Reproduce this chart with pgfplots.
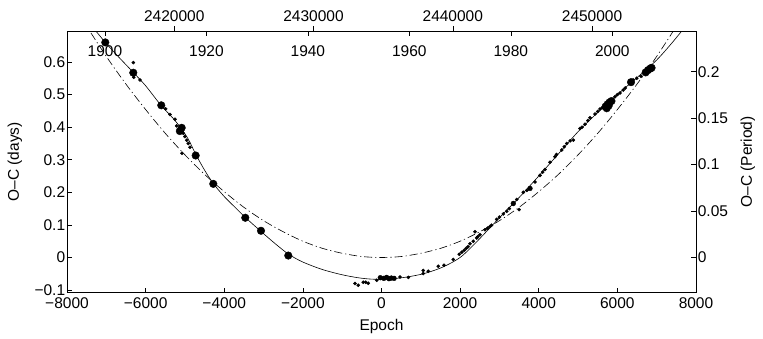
\documentclass[border=0pt]{standalone}
\usepackage{fontspec}
\setmainfont{Liberation Sans}
\usepackage{pgfplots}
\pgfplotsset{compat=1.18}

\pgfplotsset{
  ocbase/.style={
    width=629bp, height=261.7bp, scale only axis,
    at={(0,0)}, anchor=south west,
    tick align=inside, major tick length=5bp,
    scaled ticks=false,
    /pgf/number format/assume math mode=true,
    axis line style={line width=0.6bp},
    every tick/.style={black, line width=0.6bp},
    tick label style={font=\fontsize{15.5bp}{18bp}\selectfont},
    label style={font=\fontsize{15.5bp}{18bp}\selectfont},
  },
}

\begin{document}
\fontsize{15.5bp}{18bp}\selectfont
\begin{tikzpicture}

% main axis: epoch vs O-C in days
\begin{axis}[ocbase,
    xmin=-8000, xmax=8000, ymin=-0.108, ymax=0.695,
    xtick={-8000,-6000,-4000,-2000,0,2000,4000,6000,8000},
    xticklabels={−8000,−6000,−4000,−2000,0,2000,4000,6000,8000},
    ytick={-0.1,0,0.1,0.2,0.3,0.4,0.5,0.6},
    yticklabels={−0.1,0,0.1,0.2,0.3,0.4,0.5,0.6},
    xtick pos=bottom, ytick pos=left,
    xticklabel style={inner ysep=0pt, yshift=-4.7bp},
    yticklabel style={inner ysep=0pt, xshift=3.5bp},
    xlabel={Epoch}, ylabel={O–C (days)},
    xlabel style={yshift=-5bp},
    ylabel style={yshift=2bp},
]

% linear ephemeris (dash-dot)
\addplot[black, line width=0.6bp, dash pattern=on 8bp off 3bp on 1.2bp off 3bp, smooth]
  coordinates {(-7600,0.728) (-7000,0.617) (-6500,0.532) (-6000,0.454) (-5500,0.381)
    (-5000,0.315) (-4500,0.255) (-4000,0.202) (-3500,0.154) (-3000,0.113)
    (-2500,0.079) (-2000,0.050) (-1500,0.028) (-1000,0.013) (-500,0.003) (0,0)
    (500,0.003) (1000,0.013) (1500,0.028) (2000,0.050) (2500,0.079) (3000,0.113)
    (3500,0.154) (4000,0.202) (4500,0.255) (5000,0.315) (5500,0.381) (6000,0.454)
    (6500,0.532) (7000,0.617) (7600,0.728)};

% fitted curve (solid)
\addplot[black, line width=0.6bp, smooth]
  coordinates {(-7400,0.715) (-7026,0.660) (-6700,0.617) (-6314,0.568) (-6000,0.527)
    (-5609,0.467) (-5300,0.427) (-5083,0.394) (-4900,0.360) (-4731,0.318)
    (-4500,0.268) (-4279,0.227) (-4000,0.187) (-3700,0.151) (-3455,0.122)
    (-3065,0.080) (-2700,0.042) (-2361,0.010) (-2000,-0.014) (-1500,-0.037)
    (-1000,-0.053) (-600,-0.062) (-300,-0.066) (0,-0.067) (300,-0.065)
    (641,-0.060) (1063,-0.050) (1488,-0.033) (1827,-0.013) (2081,0.008)
    (2500,0.058) (3000,0.122) (3500,0.184) (4000,0.250) (4500,0.318)
    (5000,0.386) (5500,0.445) (6000,0.500) (6500,0.552) (7000,0.606)
    (7400,0.660) (7750,0.712)};

% observed minima, small
\addplot[only marks, mark=*, mark size=1.6bp, black]
  coordinates {(-6314,0.598) (-6300,0.553) (-6143,0.545) (-5490,0.456) (-5380,0.439)
    (-5253,0.424) (-5210,0.404) (-5042,0.381) (-4999,0.371) (-4955,0.360)
    (-4914,0.350) (-4871,0.338) (-5075,0.320)
    (-674,-0.080) (-590,-0.085) (-463,-0.076) (-400,-0.076) (-335,-0.079) (-122,-0.070)
    (471,-0.060) (682,-0.061) (1063,-0.049) (1063,-0.040) (1190,-0.042) (1445,-0.027)
    (1590,-0.024) (1827,-0.006) (1980,0.010) (2040,0.016) (2100,0.022) (2150,0.028)
    (2200,0.033) (2251,0.042) (2335,0.050) (2379,0.079) (2421,0.060) (2450,0.064)
    (2506,0.070) (2633,0.085) (2700,0.090) (2760,0.095) (2800,0.099) (2930,0.117)
    (3000,0.124) (3100,0.134) (3185,0.142) (3250,0.150) (3353,0.163) (3500,0.147)
    (3439,0.178) (3607,0.200) (3700,0.206) (3778,0.214) (3905,0.232) (4032,0.252)
    (4100,0.262) (4159,0.270) (4286,0.292) (4413,0.309) (4450,0.316) (4584,0.330)
    (4650,0.340) (4711,0.350) (4800,0.358) (4880,0.360) (5050,0.396) (5100,0.400)
    (5177,0.409) (5250,0.420) (5304,0.429) (5431,0.440) (5500,0.448) (5558,0.456)
    (5620,0.460) (5940,0.493) (6000,0.500) (6067,0.505) (6151,0.514) (6200,0.520)
    (6400,0.545) (6492,0.550) (6600,0.556)};

% observed minima, medium
\addplot[only marks, mark=*, mark size=2.4bp, black]
  coordinates {(-30,-0.062) (60,-0.064) (130,-0.061) (190,-0.065) (250,-0.063)
    (320,-0.064) (3353,0.166) (3778,0.212)};

% observed minima, large
\addplot[only marks, mark=*, mark size=3.8bp, black]
  coordinates {(-7026,0.660) (-6314,0.567) (-5602,0.467) (-5083,0.398) (-5130,0.388)
    (-4727,0.313) (-4279,0.226) (-3465,0.122) (-3065,0.082) (-2371,0.006)
    (5700,0.463) (5750,0.470) (5800,0.476) (5850,0.480) (5780,0.466) (5730,0.458)
    (6347,0.538) (6720,0.568) (6780,0.575) (6840,0.580) (6870,0.582)};
\end{axis}

% right axis (O-C in periods) and calendar years along the top, inside
\begin{axis}[ocbase,
    xmin=1892.53, xmax=2016.49, ymin=-0.0379, ymax=0.2438,
    axis x line*=top, axis y line*=right,
    xtick={1900,1920,1940,1960,1980,2000},
    xticklabels={1900,1920,1940,1960,1980,2000},
    xticklabel style={anchor=north, yshift=-9.5bp},
    ytick={0,0.05,0.1,0.15,0.2},
    yticklabels={0,0.05,0.1,0.15,0.2},
    yticklabel style={xshift=-3.5bp},
    ylabel={O–C (Period)},
    ylabel style={yshift=-2bp},
]
\end{axis}

% Julian dates above the top
\begin{axis}[ocbase,
    xmin=12296, xmax=57464, ymin=0, ymax=1,
    axis x line*=top, axis y line=none,
    tick align=outside,
    xtick={20000,30000,40000,50000},
    xticklabels={2420000,2430000,2440000,2450000},
    xticklabel style={yshift=-1.5bp},
]
\end{axis}

\pgfresetboundingbox
\path (-67bp,-46.3bp) rectangle (696bp,292.7bp);
\end{tikzpicture}
\end{document}
